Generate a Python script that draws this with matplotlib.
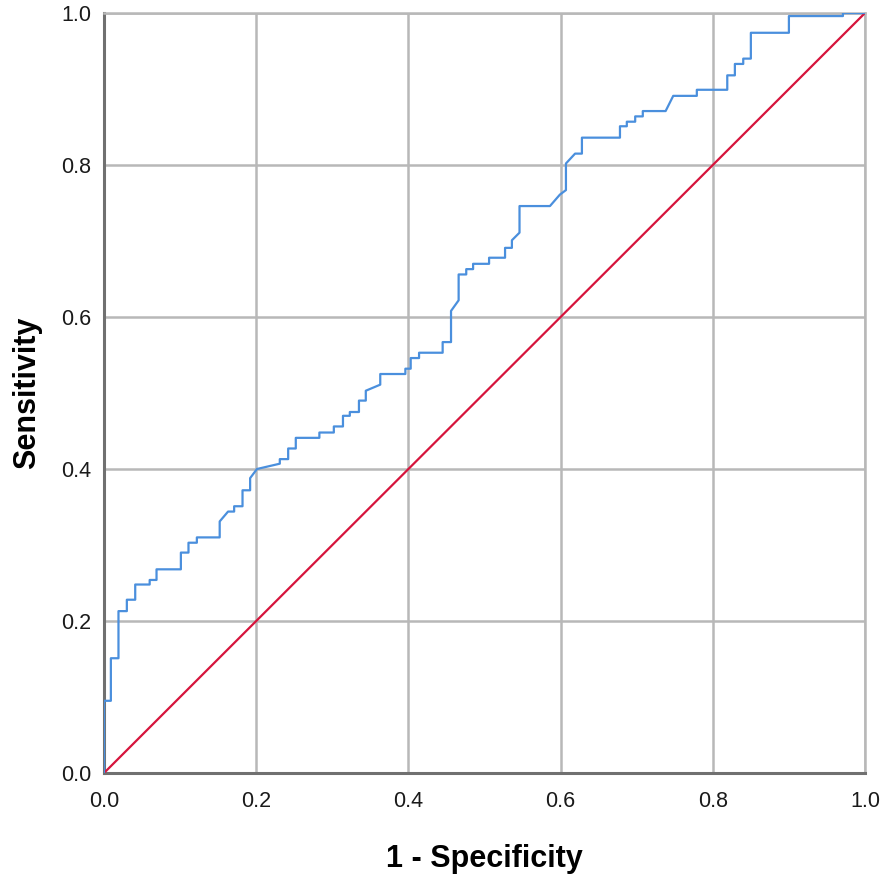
import matplotlib
matplotlib.use('Agg')
from matplotlib import pyplot as plt

# ROC curve points (1 - specificity, sensitivity)
fpr = [0.0, 0.0, 0.009, 0.009, 0.019, 0.019, 0.030, 0.030, 0.041, 0.041,
       0.060, 0.060, 0.069, 0.069, 0.101, 0.101, 0.111, 0.111, 0.122, 0.122,
       0.152, 0.152, 0.163, 0.171, 0.171, 0.182, 0.182, 0.192, 0.192, 0.201,
       0.231, 0.231, 0.242, 0.242, 0.252, 0.252, 0.283, 0.283, 0.302, 0.302,
       0.314, 0.314, 0.323, 0.323, 0.335, 0.335, 0.344, 0.344, 0.363, 0.363,
       0.396, 0.396, 0.403, 0.403, 0.414, 0.414, 0.445, 0.445, 0.456, 0.456,
       0.466, 0.466, 0.476, 0.476, 0.485, 0.485, 0.506, 0.506, 0.527, 0.527,
       0.536, 0.536, 0.546, 0.546, 0.586, 0.599, 0.607, 0.607, 0.619, 0.628,
       0.628, 0.678, 0.678, 0.687, 0.687, 0.698, 0.698, 0.708, 0.708, 0.738,
       0.748, 0.779, 0.779, 0.819, 0.819, 0.829, 0.829, 0.840, 0.840, 0.850,
       0.850, 0.900, 0.900, 0.971, 0.971, 1.0]
tpr = [0.0, 0.095, 0.095, 0.151, 0.151, 0.213, 0.213, 0.228, 0.228, 0.248,
       0.248, 0.254, 0.254, 0.268, 0.268, 0.290, 0.290, 0.303, 0.303, 0.310,
       0.310, 0.331, 0.344, 0.344, 0.351, 0.351, 0.372, 0.372, 0.388, 0.400,
       0.407, 0.413, 0.413, 0.427, 0.427, 0.441, 0.441, 0.448, 0.448, 0.456,
       0.456, 0.470, 0.470, 0.475, 0.475, 0.490, 0.490, 0.503, 0.511, 0.525,
       0.525, 0.532, 0.532, 0.546, 0.546, 0.553, 0.553, 0.567, 0.567, 0.608,
       0.622, 0.656, 0.656, 0.663, 0.663, 0.670, 0.670, 0.678, 0.678, 0.691,
       0.691, 0.701, 0.711, 0.746, 0.746, 0.761, 0.767, 0.802, 0.815, 0.815,
       0.836, 0.836, 0.851, 0.851, 0.857, 0.857, 0.864, 0.864, 0.871, 0.871,
       0.891, 0.891, 0.899, 0.899, 0.918, 0.918, 0.933, 0.933, 0.940, 0.940,
       0.974, 0.974, 0.996, 0.996, 1.0, 1.0]

ticks = [0.0, 0.2, 0.4, 0.6, 0.8, 1.0]
tick_labels = ['0.0', '0.2', '0.4', '0.6', '0.8', '1.0']

plt.rcParams['font.family'] = ['Liberation Sans', 'DejaVu Sans']

fig = plt.figure(figsize=(8.86, 8.8), dpi=100)
ax = fig.add_axes([0.1174, 0.1216, 0.8589, 0.8636])

ax.plot([0, 1], [0, 1], color='#d6143c', linewidth=1.6, zorder=3)
ax.plot(fpr, tpr, color='#4a8fdd', linewidth=1.6, zorder=4)

ax.set_xlim(0, 1)
ax.set_ylim(0, 1)
ax.set_xticks(ticks)
ax.set_xticklabels(tick_labels)
ax.set_yticks(ticks)
ax.set_yticklabels(tick_labels)
ax.tick_params(length=0, labelsize=15.5, labelcolor='#1a1a1a')
ax.tick_params(axis='x', pad=13)
ax.tick_params(axis='y', pad=9)
ax.grid(True, color='#b8b8b8', linewidth=1.8)
ax.set_axisbelow(True)

for side in ['top', 'right']:
    ax.spines[side].set_color('#b8b8b8')
    ax.spines[side].set_linewidth(1.8)
for side in ['left', 'bottom']:
    ax.spines[side].set_color('#707070')
    ax.spines[side].set_linewidth(2.2)

ax.set_xlabel('1 - Specificity', fontsize=22, fontweight='bold', labelpad=23)
ax.set_ylabel('Sensitivity', fontsize=22, fontweight='bold', labelpad=14)

fig.savefig('out.png', dpi=100)
